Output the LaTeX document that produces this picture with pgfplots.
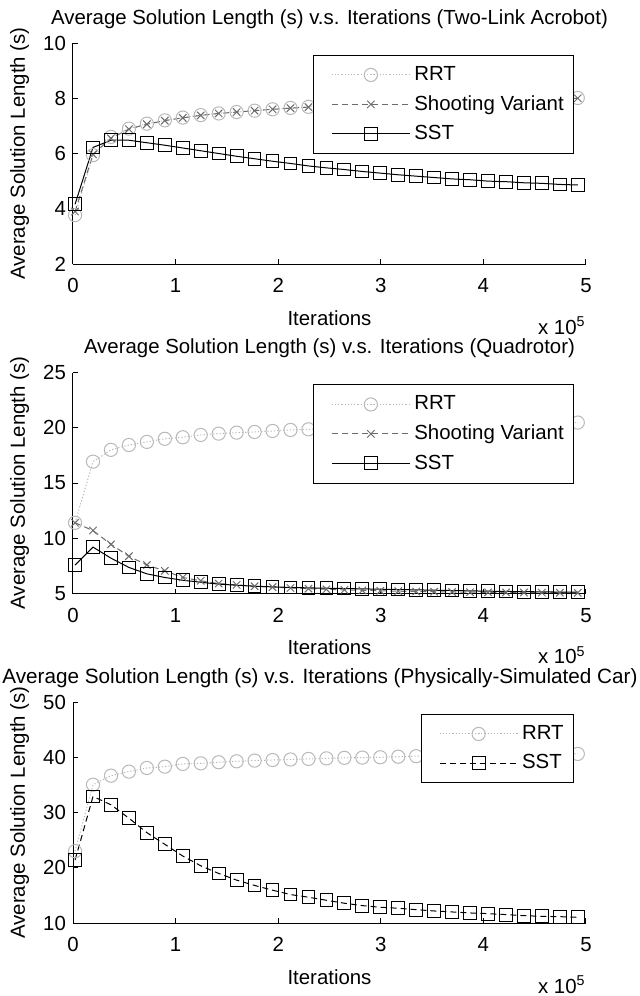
\documentclass[border=0pt]{standalone}
\usepackage{fontspec}
\setmainfont{Liberation Sans}
\usepackage{pgfplots}
\usepackage{pgfplotstable}
\pgfplotsset{compat=1.18}

\definecolor{rrtgray}{gray}{0.72}
\definecolor{shootgray}{gray}{0.42}

% x in units of 10^5 iterations
\pgfplotstableread{
x     rrt   shoot  sst
0.02  3.77  3.90   4.16
0.195 5.94  5.97   6.22
0.37  6.60  6.55   6.48
0.545 6.90  6.88   6.48
0.72  7.08  7.06   6.39
0.895 7.20  7.19   6.30
1.07  7.30  7.29   6.20
1.245 7.39  7.38   6.10
1.42  7.45  7.45   6.00
1.595 7.50  7.50   5.90
1.77  7.55  7.55   5.81
1.945 7.60  7.60   5.72
2.12  7.65  7.64   5.64
2.295 7.69  7.68   5.55
2.47  7.72  7.71   5.48
2.645 7.75  7.74   5.42
2.82  7.78  7.77   5.35
2.995 7.80  7.79   5.29
3.17  7.82  7.81   5.23
3.345 7.84  7.83   5.18
3.52  7.86  7.85   5.13
3.695 7.88  7.87   5.08
3.87  7.90  7.89   5.05
4.045 7.92  7.91   5.00
4.22  7.94  7.93   4.98
4.395 7.95  7.94   4.94
4.57  7.97  7.96   4.92
4.745 7.99  7.98   4.88
4.92  8.01  8.00   4.86
}\acrobot

\pgfplotstableread{
x     rrt    shoot  sst
0.02  11.40  11.40  7.57
0.195 16.93  10.70  9.20
0.37  18.00  9.45   8.20
0.545 18.44  8.37   7.36
0.72  18.72  7.58   6.78
0.895 19.00  7.05   6.45
1.07  19.14  6.45   6.20
1.245 19.35  6.15   6.02
1.42  19.47  5.90   5.85
1.595 19.56  5.78   5.75
1.77  19.62  5.66   5.66
1.945 19.71  5.58   5.60
2.12  19.80  5.50   5.55
2.295 19.86  5.44   5.51
2.47  19.90  5.38   5.48
2.645 19.95  5.33   5.45
2.82  20.00  5.28   5.42
2.995 20.05  5.24   5.39
3.17  20.10  5.21   5.36
3.345 20.13  5.18   5.33
3.52  20.17  5.16   5.30
3.695 20.20  5.14   5.27
3.87  20.24  5.12   5.24
4.045 20.28  5.11   5.21
4.22  20.32  5.10   5.19
4.395 20.36  5.09   5.17
4.57  20.40  5.08   5.15
4.745 20.44  5.07   5.13
4.92  20.47  5.06   5.12
}\quadrotor

\pgfplotstableread{
x     rrt    sst
0.02  23.00  21.40
0.195 35.03  32.90
0.37  36.67  31.40
0.545 37.40  28.97
0.72  38.06  26.36
0.895 38.30  24.24
1.07  38.80  22.12
1.245 38.90  20.36
1.42  39.10  18.97
1.595 39.27  17.76
1.77  39.40  16.80
1.945 39.50  15.94
2.12  39.60  15.15
2.295 39.70  14.67
2.47  39.80  14.12
2.645 39.90  13.58
2.82  39.94  13.15
2.995 40.00  12.85
3.17  40.10  12.67
3.345 40.20  12.42
3.52  40.24  12.18
3.695 40.28  12.00
3.87  40.32  11.82
4.045 40.36  11.70
4.22  40.40  11.52
4.395 40.45  11.33
4.57  40.50  11.21
4.745 40.55  11.15
4.92  40.60  11.03
}\car

\pgfplotsset{
  matfig/.style={
    scale only axis, width=256.5pt, height=110.5pt,
    xmin=0, xmax=5, xtick={0,1,2,3,4,5},
    axis lines=left, axis line style={-, line width=0.5pt},
    tick align=inside, major tick length=2.5pt,
    tick style={black, line width=0.5pt},
    clip=false,
    font=\fontsize{10.2}{12}\selectfont,
    /pgf/number format/assume math mode=true,
    xticklabel style={yshift=-3.7pt},
    every axis title/.style={at={(axis description cs:0.5,1)}, anchor=base, yshift=9.5pt},
    xlabel style={at={(axis description cs:0.5,0)}, anchor=north, yshift=-19.7pt},
    ylabel style={at={(axis description cs:-0.104,0.5)}, anchor=center, rotate=0},
    xlabel={Iterations}, ylabel={Average Solution Length (s)},
    legend image code/.code={%
      \path (-6pt,0pt);
      \draw[mark repeat=2,mark phase=2] plot coordinates {(0pt,0pt) (19.5pt,0pt) (39pt,0pt)};},
    legend style={at={(0.977,0.946)}, anchor=north east, draw=black,
      line width=0.5pt, fill=white, inner xsep=3pt, inner ysep=3.5pt,
      row sep=2pt, font=\fontsize{10.2}{12}\selectfont,
      cells={anchor=west}},
    legend cell align=left,
  },
  rrt/.style={rrtgray, line width=0.5pt, dash pattern=on 0.6pt off 1pt,
    mark=o, mark size=3.3pt, mark options={solid}},
  shoot/.style={shootgray, line width=0.5pt, dash pattern=on 3pt off 2pt,
    mark=x, mark size=2.6pt, mark options={solid}},
  sst/.style={black, line width=0.5pt, mark=square, mark size=3.2pt,
    mark options={solid}},
}

\begin{document}
\begin{tikzpicture}
\path[use as bounding box] (0,0) rectangle (319.5pt,-498pt);

\begin{axis}[matfig, at={(36.5pt,-21.5pt)}, anchor=north west,
  ymin=2, ymax=10, ytick={2,4,6,8,10},
  title={Average Solution Length (s) v.s. Iterations (Two-Link Acrobot)}]
\addplot[rrt] table[x=x, y=rrt] {\acrobot};
\addplot[shoot] table[x=x, y=shoot] {\acrobot};
\addplot[sst] table[x=x, y=sst] {\acrobot};
\legend{RRT, Shooting Variant, SST}
\node[anchor=base east, inner sep=0pt] at ([yshift=-35pt]rel axis cs:1,0) {x 10\textsuperscript{5}};
\end{axis}

\begin{axis}[matfig, at={(36.5pt,-186.25pt)}, anchor=north west,
  ymin=5, ymax=25, ytick={5,10,15,20,25},
  title={Average Solution Length (s) v.s. Iterations (Quadrotor)}]
\addplot[rrt] table[x=x, y=rrt] {\quadrotor};
\addplot[shoot] table[x=x, y=shoot] {\quadrotor};
\addplot[sst] table[x=x, y=sst] {\quadrotor};
\legend{RRT, Shooting Variant, SST}
\node[anchor=base east, inner sep=0pt] at ([yshift=-35pt]rel axis cs:1,0) {x 10\textsuperscript{5}};
\end{axis}

\begin{axis}[matfig, at={(36.5pt,-351pt)}, anchor=north west,
  ymin=10, ymax=50, ytick={10,20,30,40,50},
  title style={xshift=-4.75pt, font=\fontsize{10.35}{12}\selectfont},
  title={Average Solution Length (s) v.s. Iterations (Physically-Simulated Car)}]
\addplot[rrt] table[x=x, y=rrt] {\car};
\addplot[sst, dash pattern=on 3pt off 2pt] table[x=x, y=sst] {\car};
\legend{RRT, SST}
\node[anchor=base east, inner sep=0pt] at ([yshift=-35pt]rel axis cs:1,0) {x 10\textsuperscript{5}};
\end{axis}
\end{tikzpicture}
\end{document}
